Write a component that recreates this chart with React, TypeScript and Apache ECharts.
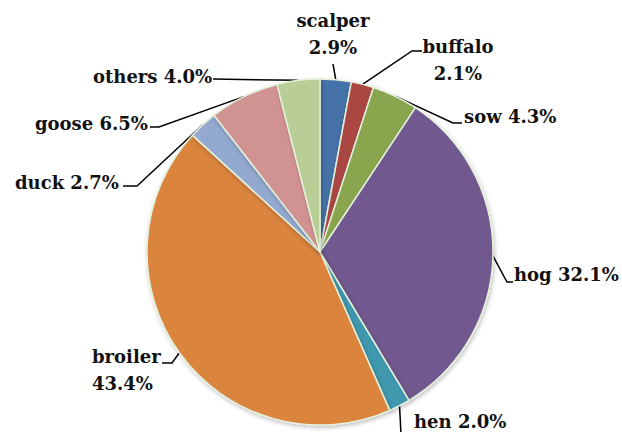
import React, { useEffect, useRef } from "react";
import * as echarts from "echarts";

const categories = ["scalper", "buffalo", "sow", "hog", "hen", "broiler", "duck", "goose", "others"];
const shares = [2.9, 2.1, 4.3, 32.1, 2.0, 43.4, 2.7, 6.5, 4.0];
const colors = ["#4572A7", "#AA4643", "#89A54E", "#71588F", "#4198AF", "#DB843D", "#93A9CF", "#D19392", "#B9CD96"];
const twoLine = ["scalper", "buffalo", "broiler"];

// label placement (layout only): text anchor, alignment, leader-line bend points
const labelPlacement: Record<string, { x: number; y: number; align: string; pts: number[][] }> = {
  scalper: { x: 333, y: 34, align: "center", pts: [[333, 64]] },
  buffalo: { x: 458, y: 60, align: "center", pts: [[412, 51], [422, 51]] },
  sow: { x: 464, y: 116, align: "left", pts: [[453, 123], [462, 123]] },
  hog: { x: 514, y: 274, align: "left", pts: [[507, 282], [513, 282]] },
  hen: { x: 414, y: 421, align: "left", pts: [[401, 434]] },
  broiler: { x: 92, y: 370, align: "left", pts: [[172, 363], [162, 363]] },
  duck: { x: 15, y: 182, align: "left", pts: [[137, 186], [123, 186]] },
  goose: { x: 35, y: 123, align: "left", pts: [[159, 127], [150, 127]] },
  others: { x: 93, y: 76, align: "left", pts: [[213, 79]] },
};

export default function App() {
  const ref = useRef<HTMLDivElement>(null);
  useEffect(() => {
    document.body.style.margin = "0";
    const chart = echarts.init(ref.current!, null, { renderer: "svg" });
    const cx = 320, cy = 252, r = 173;
    const total = shares.reduce((a, b) => a + b, 0);
    chart.setOption({
      animation: false,
      backgroundColor: "#ffffff",
      series: [
        {
          type: "pie",
          center: [cx, cy],
          radius: [0, r],
          startAngle: 90,
          clockwise: true,
          avoidLabelOverlap: false,
          itemStyle: {
            borderColor: "#e3f0da",
            borderWidth: 1.5,
            shadowBlur: 4,
            shadowColor: "rgba(0,0,0,0.25)",
            shadowOffsetX: 1,
            shadowOffsetY: 2,
          },
          label: {
            show: true,
            position: "outside",
            fontFamily: "DejaVu Serif",
            fontWeight: "bold",
            fontSize: 18,
            lineHeight: 27,
            color: "#111111",
            formatter: (p: any) => {
              const v = (p.value as number).toFixed(1) + "%";
              return twoLine.includes(p.name) ? p.name + "\n" + v : p.name + " " + v;
            },
          },
          labelLine: {
            show: true,
            smooth: false,
            lineStyle: { color: "#000000", width: 1.5 },
          },
          labelLayout: (params: any) => {
            const name = categories[params.dataIndex];
            const pl = labelPlacement[name];
            let acc = 0;
            for (let i = 0; i < params.dataIndex; i++) acc += shares[i];
            const mid = ((acc + shares[params.dataIndex] / 2) / total) * 2 * Math.PI;
            const ang = Math.PI / 2 - mid;
            const start = [cx + r * Math.cos(ang), cy - r * Math.sin(ang)];
            return {
              x: pl.x,
              y: pl.y,
              align: pl.align,
              verticalAlign: "middle",
              labelLinePoints: [start, ...pl.pts],
            };
          },
          data: categories.map((c, i) => ({
            name: c,
            value: shares[i],
            itemStyle: { color: colors[i] },
          })),
        },
      ],
    });
    return () => chart.dispose();
  }, []);
  return <div ref={ref} style={{ width: 622, height: 432 }} />;
}
